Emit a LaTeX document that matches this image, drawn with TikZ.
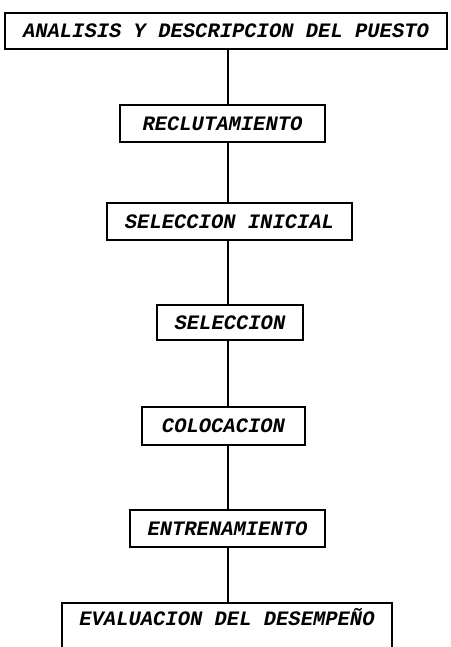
\documentclass[tikz,border=0pt]{standalone}
\usepackage{fontspec}
\setmonofont{Liberation Mono}
\begin{document}
\begin{tikzpicture}[x=1pt,y=-1pt,
  stagebox/.style={draw=black, line width=1.6pt, rectangle, inner sep=0pt,
    font=\ttfamily\bfseries\itshape\fontsize{20.5}{24}\selectfont},
  link/.style={draw=black, line width=1.6pt}]
\useasboundingbox (0,0) rectangle (450,647);
\clip (0,0) rectangle (450,647);
\coordinate (axis) at (228,0);
\node[stagebox, minimum width=442pt, minimum height=36pt] (A) at (226,31) {ANALISIS Y DESCRIPCION DEL PUESTO};
\node[stagebox, minimum width=205pt, minimum height=37pt] (B) at (222.5,123.5) {RECLUTAMIENTO};
\node[stagebox, minimum width=245pt, minimum height=37pt] (C) at (229.5,221.5) {SELECCION INICIAL};
\node[stagebox, minimum width=146pt, minimum height=35pt] (D) at (230,322.5) {SELECCION};
\node[stagebox, minimum width=163pt, minimum height=38pt] (E) at (223.5,426) {COLOCACION};
\node[stagebox, minimum width=195pt, minimum height=37pt] (F) at (227.5,528.5) {ENTRENAMIENTO};
\node[stagebox, draw=none] (G) at (227,617) {EVALUACION DEL DESEMPEÑO};
\coordinate (gtop) at (227,603);
\draw[link] (62,652) |- (392,603) -- (392,652);
\draw[link] (A.south -| axis) -- (B.north -| axis);
\draw[link] (B.south -| axis) -- (C.north -| axis);
\draw[link] (C.south -| axis) -- (D.north -| axis);
\draw[link] (D.south -| axis) -- (E.north -| axis);
\draw[link] (E.south -| axis) -- (F.north -| axis);
\draw[link] (F.south -| axis) -- (gtop -| axis);
\end{tikzpicture}
\end{document}
